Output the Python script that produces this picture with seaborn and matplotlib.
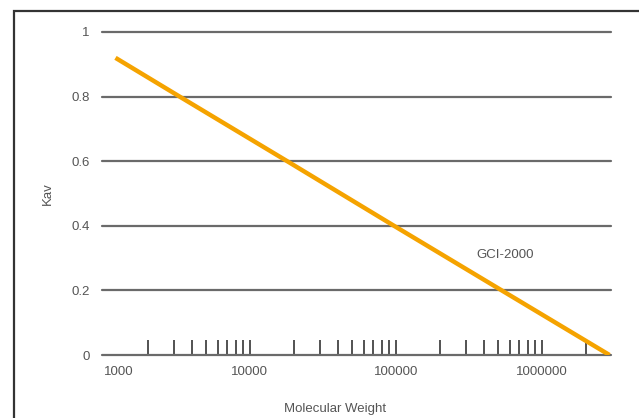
import matplotlib
matplotlib.use("Agg")
import matplotlib.pyplot as plt
import seaborn as sns
import numpy as np
import pandas as pd
from matplotlib.ticker import FixedLocator, NullFormatter
from matplotlib.patches import Rectangle

# Data
mol_weight = [1200, 3300, 18000, 97000, 530000, 2900000]
kav = [0.92, 0.80, 0.60, 0.40, 0.20, 0.0]
series_label = "GCI-2000"
y_ticks = [0, 0.2, 0.4, 0.6, 0.8, 1]
y_tick_labels = ["0", "0.2", "0.4", "0.6", "0.8", "1"]
x_major = [1000, 10000, 100000, 1000000]
x_major_labels = ["1000", "10000", "100000", "1000000"]

sns.set_style("white")
plt.rcParams['font.family'] = ['Liberation Sans', 'DejaVu Sans']

FS = 9.5
TXT = "#555555"

fig = plt.figure(figsize=(6.39, 4.18), dpi=100)
ax = fig.add_axes([102/639, 1-355/418, 509/639, (355-32)/418])

df = pd.DataFrame({"mw": mol_weight, "kav": kav})
sns.lineplot(data=df, x="mw", y="kav", ax=ax, color="#F5A300", lw=3.2,
             solid_capstyle="butt", zorder=5)

ax.set_xscale("log")
ax.set_xlim(970, 2.97e6)
ax.set_ylim(0, 1)

for s in ax.spines.values():
    s.set_visible(False)

ax.set_yticks(y_ticks)
ax.set_yticklabels(y_tick_labels)
ax.yaxis.grid(True, color="#6a6a6a", lw=1.6)
for gl in ax.yaxis.get_gridlines():
    gl.set_clip_on(False)
ax.xaxis.grid(False)
ax.tick_params(axis="y", length=0, pad=9, labelsize=FS, labelcolor=TXT)

ax.xaxis.set_major_locator(FixedLocator(x_major))
ax.set_xticklabels(x_major_labels)
minor = [m * d for d in [1e3, 1e4, 1e5, 1e6] for m in range(2, 10) if m * d <= 2.97e6]
ax.xaxis.set_minor_locator(FixedLocator(minor))
ax.xaxis.set_minor_formatter(NullFormatter())
ax.tick_params(axis="x", which="both", direction="in", length=11, width=1.3,
               color="#444444", bottom=True, labelsize=FS, labelcolor=TXT, pad=8)
ticks = ax.xaxis.get_major_ticks()
ticks[0].tick1line.set_visible(False)
ticks[0].label1.set_horizontalalignment("left")

ax.set_xlabel("Molecular Weight", fontsize=FS, color=TXT)
ax.xaxis.set_label_coords(0.458, -0.15)
ax.set_ylabel("Kav", fontsize=FS, color=TXT)
ax.yaxis.set_label_coords(-0.095, 0.5)

ax.text(5.6e5, 0.31, series_label, fontsize=FS, color=TXT,
        ha="center", va="center")

top = 1 - 11/418
fig.patches.append(Rectangle((14/639, -0.2), 1.2, top + 0.2,
                             transform=fig.transFigure, fill=False,
                             edgecolor="#333333", lw=1.6, clip_on=False))

fig.savefig("out.png", dpi=100)
